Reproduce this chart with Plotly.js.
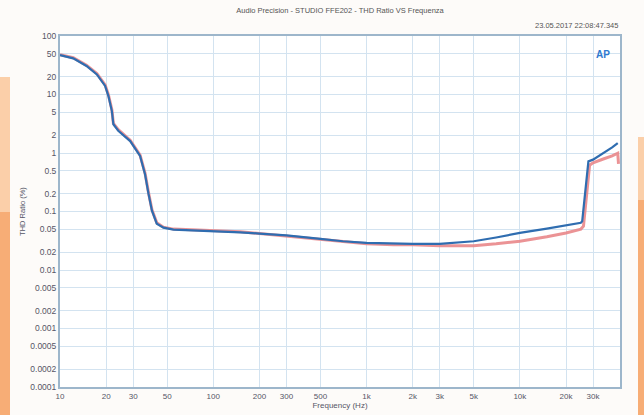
<!DOCTYPE html>
<html>
<head>
<meta charset="utf-8">
<script src="https://cdn.plot.ly/plotly-3.0.1.min.js"></script>
<style>
  html, body { margin:0; padding:0; background:#fdfbf9; }
  #wrap { position:relative; width:644px; height:415px; overflow:hidden; }
  .strip { position:absolute; }
  #chart { position:absolute; left:0; top:0; width:644px; height:415px; }
</style>
</head>
<body>
<div id="wrap">
  <div class="strip" style="left:0;top:77px;width:10px;height:135px;background:#fbcfa9;"></div>
  <div class="strip" style="left:0;top:212px;width:10px;height:203px;background:#f7ad76;"></div>
  <div class="strip" style="left:638px;top:137px;width:6px;height:63px;background:#fbcfa9;"></div>
  <div class="strip" style="left:638px;top:200px;width:6px;height:215px;background:#f7ad76;"></div>
  <div id="chart"></div>
</div>
<script>
// Frequency points (Hz)
const freqBlue = [10, 12.2, 14.9, 17.4, 19.7, 20.7, 21.8, 22.3, 24, 28.7, 33.3, 35.9, 37.8, 39.8, 42.8, 47.3, 55, 70, 111, 150, 200, 300, 500, 700, 1000, 1500, 2000, 3000, 5000, 7000, 10000, 15000, 20000, 25000, 25500, 28000, 30000, 35000, 40000, 43500];
const thdBlue  = [47, 41.5, 30.7, 22, 14, 9.4, 5.2, 3.1, 2.4, 1.6, 0.89, 0.43, 0.2, 0.103, 0.062, 0.053, 0.049, 0.048, 0.046, 0.044, 0.042, 0.039, 0.034, 0.031, 0.029, 0.028, 0.028, 0.028, 0.031, 0.036, 0.043, 0.051, 0.058, 0.064, 0.068, 0.72, 0.77, 0.98, 1.25, 1.48];

const freqRed = [10, 12.2, 14.9, 17.4, 19.7, 20.7, 21.8, 22.3, 24, 28.7, 33.3, 35.9, 37.8, 39.8, 42.8, 47.3, 55, 70, 111, 150, 200, 300, 500, 700, 1000, 1500, 2000, 3000, 5000, 7000, 10000, 15000, 20000, 25000, 26000, 28500, 30000, 35000, 40000, 43500, 44000];
const thdRed  = [48, 42.5, 31.5, 22.8, 14.6, 9.8, 5.5, 3.2, 2.5, 1.65, 0.92, 0.45, 0.21, 0.107, 0.064, 0.054, 0.05, 0.049, 0.047, 0.045, 0.042, 0.038, 0.033, 0.03, 0.028, 0.027, 0.027, 0.026, 0.026, 0.028, 0.031, 0.037, 0.043, 0.05, 0.056, 0.62, 0.68, 0.79, 0.89, 0.99, 0.65];

const yTicks = [100, 50, 20, 10, 5, 2, 1, 0.5, 0.2, 0.1, 0.05, 0.02, 0.01, 0.005, 0.002, 0.001, 0.0005, 0.0002, 0.0001];
const yTickText = ['100','50','20','10','5','2','1','0.5','0.2','0.1','0.05','0.02','0.01','0.005','0.002','0.001','0.0005','0.0002','0.0001'];
const xTicks = [10, 20, 30, 50, 100, 200, 300, 500, 1000, 2000, 3000, 5000, 10000, 20000, 30000];
const xTickText = ['10','20','30','50','100','200','300','500','1k','2k','3k','5k','10k','20k','30k'];

const titleText = 'Audio Precision - STUDIO FFE202 - THD Ratio VS Frequenza';
const dateText = '23.05.2017 22:08:47.345';

const traces = [
  { x: freqRed, y: thdRed, type: 'scatter', mode: 'lines', line: { color: 'rgba(232,128,130,0.85)', width: 3 }, hoverinfo: 'skip' },
  { x: freqBlue, y: thdBlue, type: 'scatter', mode: 'lines', line: { color: '#2f6db0', width: 2.2 }, hoverinfo: 'skip' }
];

const layout = {
  width: 644, height: 415,
  margin: { l: 60, r: 24, t: 36, b: 28 },
  paper_bgcolor: 'rgba(0,0,0,0)',
  plot_bgcolor: '#ffffff',
  showlegend: false,
  font: { family: 'Liberation Sans, Arial, sans-serif', color: '#555' },
  title: { text: titleText, font: { size: 7.5, color: '#555' }, x: 0.5, xanchor: 'center', y: 0.975, yanchor: 'middle', xref: 'paper' },
  xaxis: {
    type: 'log', range: [1, Math.log10(45000)],
    tickmode: 'array', tickvals: xTicks, ticktext: xTickText,
    tickfont: { size: 8, color: '#556' },
    showgrid: true, gridcolor: '#d3e3f0', gridwidth: 1,
    showline: true, linecolor: '#9db6cb', linewidth: 2, mirror: true,
    ticks: '', zeroline: false,
    title: { text: 'Frequency (Hz)', font: { size: 8, color: '#556' }, standoff: 2 }
  },
  yaxis: {
    type: 'log', range: [-4, 2],
    tickmode: 'array', tickvals: yTicks, ticktext: yTickText,
    tickfont: { size: 8.5, color: '#556' },
    showgrid: true, gridcolor: '#d3e3f0', gridwidth: 1,
    showline: true, linecolor: '#9db6cb', linewidth: 2, mirror: true,
    ticks: '', zeroline: false,
    title: { text: 'THD Ratio (%)', font: { size: 7.5, color: '#556' }, standoff: 4 }
  },
  annotations: [
    { text: dateText, xref: 'paper', yref: 'paper', x: 1, y: 1, xanchor: 'right', yanchor: 'bottom', yshift: 4, showarrow: false, font: { size: 7.5, color: '#555' } },
    { text: '<b>AP</b>', xref: 'paper', yref: 'paper', x: 0.985, y: 0.97, xanchor: 'right', yanchor: 'top', showarrow: false, font: { size: 10, color: '#2f7ad0' } }
  ]
};

Plotly.newPlot('chart', traces, layout, { staticPlot: true, displayModeBar: false });
</script>
</body>
</html>
